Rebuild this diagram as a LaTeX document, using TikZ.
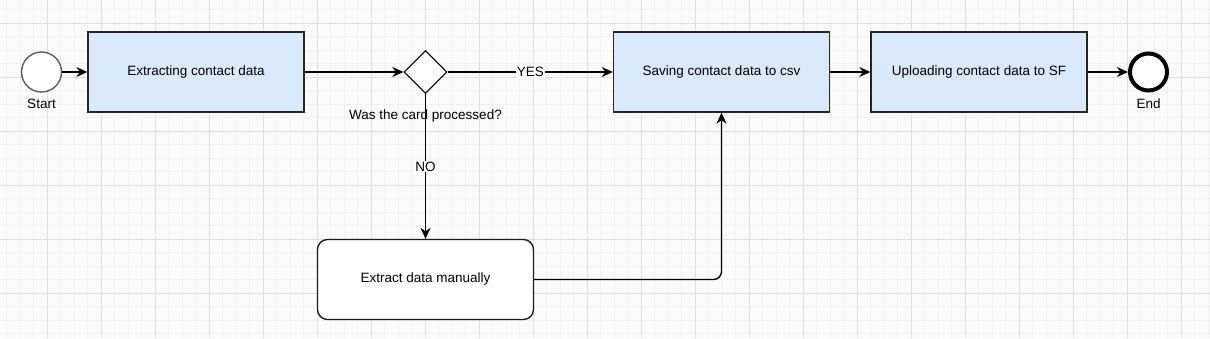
\documentclass[tikz,border=0pt]{standalone}
\usepackage{fontspec}
\setmainfont{Liberation Sans}
\usetikzlibrary{arrows.meta,shapes.geometric}
\definecolor{taskblue}{HTML}{DAE8FC}
\definecolor{gridbg}{HTML}{FAFAFA}
\definecolor{gridminor}{HTML}{F0F0F0}
\definecolor{gridmajor}{HTML}{E0E0E0}

\begin{document}
\begin{tikzpicture}[x=1pt, y=-1pt,
    font=\fontsize{13.5}{16}\selectfont,
    task/.style = {draw=black!85, line width=1.35pt, fill=taskblue,
                   minimum width=216pt, minimum height=80pt, inner sep=0pt},
    manual/.style = {draw=black!90, line width=1.35pt, fill=white, rounded corners=10pt,
                     minimum width=216pt, minimum height=80pt, inner sep=0pt},
    gate/.style = {diamond, draw=black!90, line width=1.35pt, fill=white,
                   minimum width=43pt, minimum height=43pt, inner sep=0pt},
    event/.style = {circle, fill=white, minimum size=40pt, inner sep=0pt},
    flow/.style = {line width=1.35pt, -{Stealth[length=11pt, width=10pt, inset=3.5pt]}},
    tag/.style = {fill=white, inner sep=1pt}]
    % background grid
    \useasboundingbox (0,0) rectangle (1210,338);
    \fill[gridbg] (0,0) rectangle (1210,338);
    \foreach \i in {0,...,89} {\draw[gridminor, line width=1pt] (6.8+13.5*\i,0) -- ++(0,338);}
    \foreach \i in {0,...,24} {\draw[gridminor, line width=1pt] (0,9.8+13.5*\i) -- ++(1210,0);}
    \foreach \i in {0,...,21} {\draw[gridmajor, line width=1pt] (47.3+54*\i,0) -- ++(0,338);}
    \foreach \i in {0,...,5} {\draw[gridmajor, line width=1pt] (0,23.3+54*\i) -- ++(1210,0);}
    % events
    \node[event, draw=black!65, line width=1.35pt] (start) at (41.5,72) {};
    \node (startlbl) at (41.5,104) {Start};
    \node[event, draw=black, line width=4pt, minimum size=37pt] (finish) at (1148.5,72) {};
    \node (finishlbl) at (1148.5,104) {End};
    % tasks
    \node[task] (extract) at (196,72) {Extracting contact data};
    \node[gate] (check) at (425.5,72) {};
    \node (checklbl) at (425.5,116) {Was the card processed?};
    \node[task] (save) at (721.5,72) {Saving contact data to csv};
    \node[task] (upload) at (979,72) {Uploading contact data to SF};
    \node[manual] (byhand) at (425.5,279.5) {Extract data manually};
    % flows
    \draw[flow] (start) -- (extract);
    \draw[flow] (extract) -- (check);
    \draw[flow] (check) -- node[tag] {YES} (save);
    \draw[flow] (check) -- node[tag] {NO} (byhand);
    \draw[flow, rounded corners=8pt] (byhand.east) -| (save.south);
    \draw[flow] (save) -- (upload);
    \draw[flow] (upload) -- (finish);
\end{tikzpicture}
\end{document}
